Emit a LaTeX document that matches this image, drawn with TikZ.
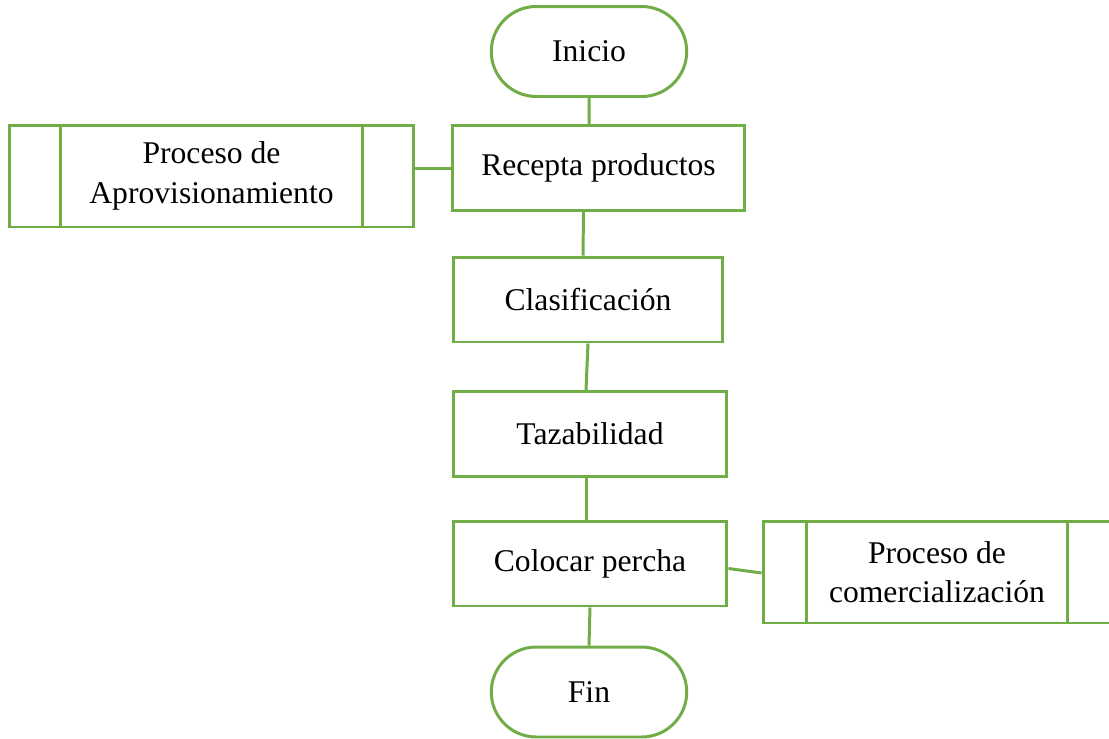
\documentclass[tikz,border=0pt]{standalone}
\usepackage{fontspec}
\setmainfont{Liberation Serif}
\usetikzlibrary{calc,shapes.misc}
\definecolor{ogreen}{RGB}{112,173,71}
\tikzset{
  base/.style={draw=ogreen,line width=1.7pt,fill=white,font=\fontsize{18}{22.5}\selectfont,align=center,inner sep=2pt},
  terminal/.style={base,rounded rectangle,minimum width=4.05cm,minimum height=1.8cm},
  process/.style={base,rectangle,minimum width=5.45cm,minimum height=1.7cm},
  subprocess/.style={base,rectangle,minimum height=2.04cm,
    path picture={
      \draw[ogreen,line width=1.7pt] ([xshift=#1]path picture bounding box.north west) -- ([xshift=#1]path picture bounding box.south west);
      \draw[ogreen,line width=1.7pt] ([xshift=-#1]path picture bounding box.north east) -- ([xshift=-#1]path picture bounding box.south east);
    }},
  link/.style={draw=ogreen,line width=1.7pt}
}
\begin{document}
\begin{tikzpicture}[x=0.02cm,y=-0.02cm]
      \useasboundingbox (0,0) rectangle (1109,738);
      \node[terminal] (inicio) at (589,51.5) {Inicio};
      \node[process,minimum width=5.86cm] (recepta) at (598.5,168) {Recepta productos};
      \node[subprocess=1.02cm,minimum width=8.1cm] (aprov) at (211.5,176) {Proceso de\\Aprovisionamiento};
      \node[process,minimum width=5.4cm] (clasif) at (588,299.5) {Clasificación};
      \node[process,minimum width=5.48cm] (tazab) at (590,434) {Tazabilidad};
      \node[process,minimum width=5.48cm] (colocar) at (590,563.5) {Colocar percha};
      \node[subprocess=0.86cm,minimum width=6.96cm] (comerc) at (937,572) {Proceso de\\comercialización};
      \node[terminal] (fin) at (589,692) {Fin};

      \draw[link] (inicio) -- (inicio |- recepta.north);
      \draw[link] (aprov.east |- recepta.west) -- (recepta.west);
      \draw[link] ([xshift=-0.3cm]recepta.south) -- ([xshift=-0.1cm]clasif.north);
      \draw[link] (clasif.south) -- ([xshift=-0.08cm]tazab.north);
      \draw[link] ([xshift=-0.08cm]tazab.south) -- ([xshift=-0.08cm]colocar.north);
      \draw[link] (colocar.south) -- (fin.north);
      \draw[link] ([yshift=-0.1cm]colocar.east) -- ([yshift=-0.02cm]comerc.west);
    \end{tikzpicture}
\end{document}
